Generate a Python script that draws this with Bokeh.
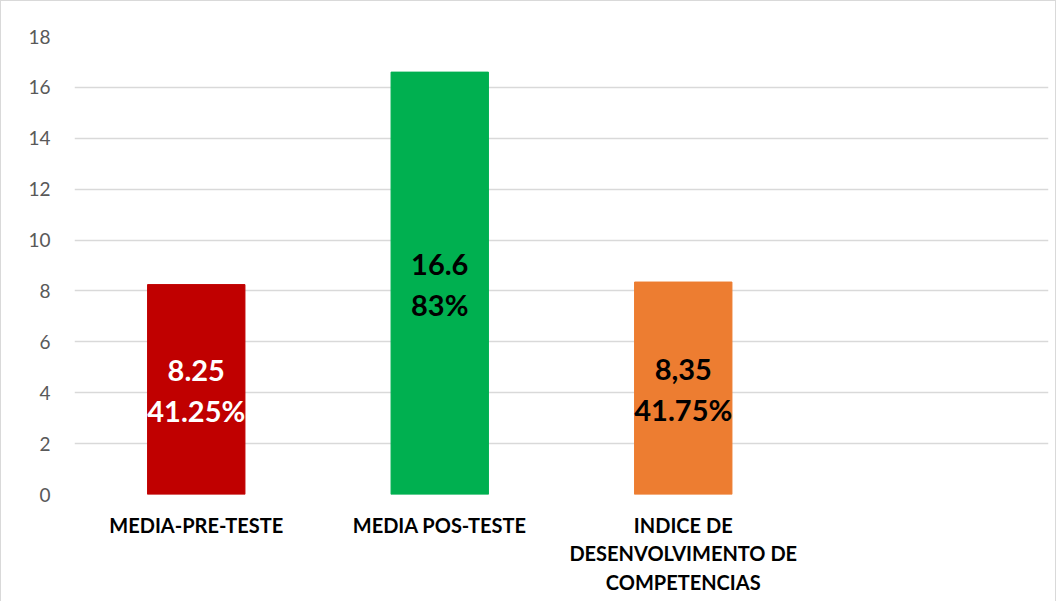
from bokeh.plotting import figure
from bokeh.models import ColumnDataSource, FactorRange, Range1d, FixedTicker
from bokeh.core.properties import value
from bokeh.embed import file_html
from bokeh.resources import INLINE

categories = ["MEDIA-PRE-TESTE", "MEDIA POS-TESTE", "INDICE DE\nDESENVOLVIMENTO DE\nCOMPETENCIAS"]
empty_slot = " "
values = [8.25, 16.6, 8.35]
value_labels = ["8.25", "16.6", "8,35"]
pct_labels = ["41.25%", "83%", "41.75%"]
bar_colors = ["#C00000", "#00B050", "#ED7D31"]
label_colors = ["#FFFFFF", "#000000", "#000000"]
y_ticks = [0, 2, 4, 6, 8, 10, 12, 14, 16, 18]

src = ColumnDataSource(dict(
    cat=categories,
    val=values,
    mid=[v / 2 for v in values],
    vlab=value_labels,
    plab=pct_labels,
    color=bar_colors,
    tcolor=label_colors,
))

p = figure(
    width=1056, height=601,
    x_range=FactorRange(factors=categories + [empty_slot]),
    y_range=Range1d(0, 18),
    output_backend="svg", toolbar_location=None,
    min_border_left=73, min_border_right=9, min_border_top=35, min_border_bottom=108,
)
p.outline_line_color = None
p.background_fill_color = "white"
p.border_fill_color = "white"
p.styles = {"border-left": "1.5px solid #D9D9D9", "border-top": "1.5px solid #D9D9D9",
            "border-right": "1.5px solid #D9D9D9"}

p.vbar(x="cat", top="val", width=0.4, color="color", source=src)

font = value("Lato")
p.text(x="cat", y="mid", text="vlab", source=src, text_color="tcolor",
       text_font=font, text_font_style="bold", text_font_size="29px",
       text_align="center", text_baseline="middle", y_offset=-19)
p.text(x="cat", y="mid", text="plab", source=src, text_color="tcolor",
       text_font=font, text_font_style="bold", text_font_size="29px",
       text_align="center", text_baseline="middle", y_offset=21)

p.xgrid.grid_line_color = None
p.ygrid.grid_line_color = "#D9D9D9"
p.ygrid.grid_line_width = 1.5
p.yaxis.ticker = FixedTicker(ticks=y_ticks)

for ax in (p.xaxis, p.yaxis):
    ax.axis_line_color = None
    ax.major_tick_line_color = None
    ax.minor_tick_line_color = None
    ax.major_tick_out = 0
    ax.major_tick_in = 0

p.yaxis.major_label_text_font = "Lato"
p.yaxis.major_label_text_font_size = "19px"
p.yaxis.major_label_text_color = "#595959"
p.yaxis.major_label_standoff = 24

p.xaxis.major_label_text_font = "Lato"
p.xaxis.major_label_text_font_style = "bold"
p.xaxis.major_label_text_font_size = "20px"
p.xaxis.major_label_text_color = "#000000"
p.xaxis.major_label_standoff = 18

open("out.html", "w").write(file_html(p, INLINE))
